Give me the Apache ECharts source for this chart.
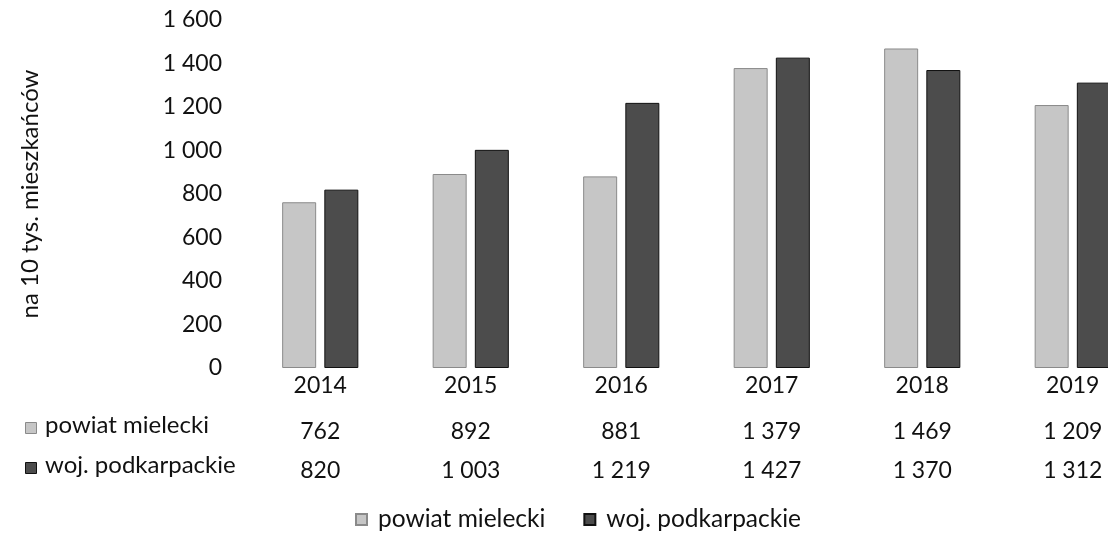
<!DOCTYPE html>
<html><head><meta charset="utf-8">
<script src="https://cdn.jsdelivr.net/npm/echarts@6/dist/echarts.min.js"></script>
<style>html,body{margin:0;padding:0;background:#fff;overflow:hidden;width:1108px;height:539px}#c{width:1148px;height:539px}</style>
</head><body><div id="c"></div>
<script>
var years = ['2014','2015','2016','2017','2018','2019'];
var seriesNames = ['powiat mielecki','woj. podkarpackie'];
var powiat = [762, 892, 881, 1379, 1469, 1209];
var woj = [820, 1003, 1219, 1427, 1370, 1312];
var yTicks = [0, 200, 400, 600, 800, 1000, 1200, 1400, 1600];
var yTitle = 'na 10 tys. mieszkańców';

function fmt(v){ return String(v).replace(/\B(?=(\d{3})+(?!\d))/g, ' '); }
var FONT = 'Lato';
var FS = 23;
var colors = ['#c6c6c6', '#4c4c4c'];
var chart = echarts.init(document.getElementById('c'));
function tableAxis(vals, offset){
  return {type:'category', data: vals.map(fmt), position:'bottom', offset: offset,
    axisLine:{show:false}, axisTick:{show:false},
    axisLabel:{color:'#111', fontFamily:FONT, fontSize:FS, margin:6}};
}
chart.setOption({
  animation:false,
  grid:{left:245, top:20, right:0, bottom:171},
  legend:{bottom:2, left:350, itemWidth:11, itemHeight:11, itemGap:38,
    textStyle:{fontFamily:FONT, fontSize:24.5, color:'#111', padding:[0,0,0,6]},
    data: seriesNames.map(function(n){return {name:n, icon:'rect'};})},
  xAxis:[
    {type:'category', data: years, axisLine:{show:false}, axisTick:{show:false},
     axisLabel:{color:'#111', fontFamily:FONT, fontSize:FS, margin:6}},
    tableAxis(powiat, 46),
    tableAxis(woj, 85)
  ],
  yAxis:{type:'value', min:yTicks[0], max:yTicks[yTicks.length-1], interval:200,
    name: yTitle, nameLocation:'middle', nameGap:203, nameRotate:90,
    nameTextStyle:{fontFamily:FONT, fontSize:24, color:'#111'},
    axisLine:{show:false}, axisTick:{show:false}, splitLine:{show:false},
    axisLabel:{color:'#111', fontFamily:FONT, fontSize:FS, margin:23, formatter:function(v){return fmt(v);}}},
  series:[
    {name:seriesNames[0], type:'bar', data:powiat, barWidth:34, barGap:'24%',
     itemStyle:{color:colors[0], borderColor:'#8a8a8a', borderWidth:1}},
    {name:seriesNames[1], type:'bar', data:woj, barWidth:34, barGap:'24%',
     itemStyle:{color:colors[1], borderColor:'#111', borderWidth:1}}
  ],
  graphic:[
    {type:'rect', left:25, top:422, shape:{width:11, height:11}, style:{fill:colors[0], stroke:'#8a8a8a'}},
    {type:'text', left:45, top:413, style:{text:seriesNames[0], font:'24px Lato', fill:'#111'}},
    {type:'rect', left:25, top:462, shape:{width:11, height:11}, style:{fill:colors[1], stroke:'#111'}},
    {type:'text', left:45, top:453, style:{text:seriesNames[1], font:'24px Lato', fill:'#111'}}
  ]
});
</script></body></html>
